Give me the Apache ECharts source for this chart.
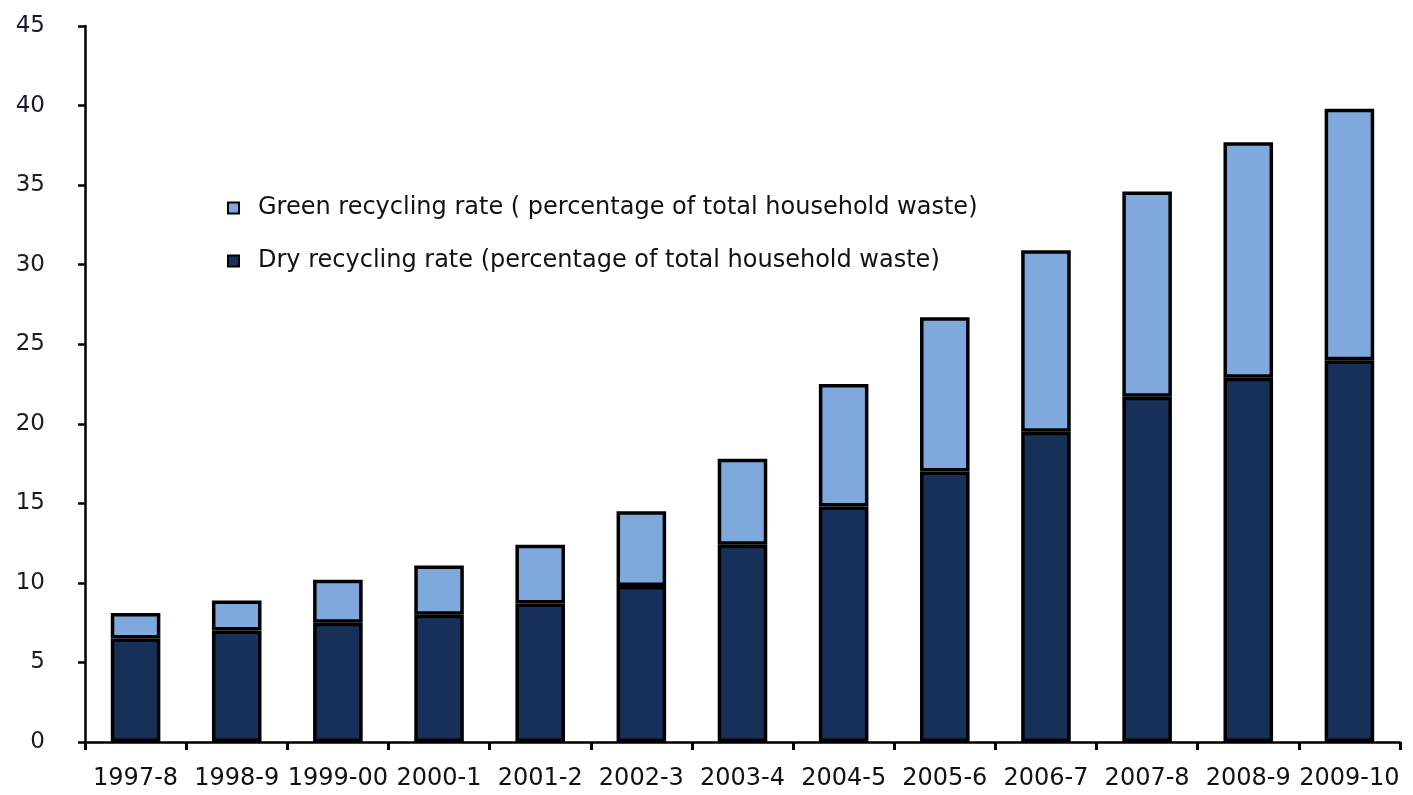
<!DOCTYPE html>
<html>
<head>
<meta charset="utf-8">
<script src="https://cdn.jsdelivr.net/npm/echarts@6/dist/echarts.min.js"></script>
<style>
html, body { margin: 0; padding: 0; background: #fff; }
#canvas { width: 1413px; height: 795px; }
</style>
</head>
<body>
<div id="canvas"></div>
<script>
var years = ['1997-8','1998-9','1999-00','2000-1','2001-2','2002-3','2003-4','2004-5','2005-6','2006-7','2007-8','2008-9','2009-10'];
var dryRate = [6.5, 7.0, 7.5, 8.0, 8.7, 9.8, 12.4, 14.8, 17.0, 19.5, 21.7, 22.9, 24.0];
var greenRate = [1.6, 1.9, 2.7, 3.1, 3.7, 4.7, 5.4, 7.7, 9.7, 11.4, 12.9, 14.8, 15.8];
var yTicks = [0, 5, 10, 15, 20, 25, 30, 35, 40, 45];

var greenName = 'Green recycling rate ( percentage of total household waste)';
var dryName = 'Dry recycling rate (percentage of total household waste)';

var myChart = echarts.init(document.getElementById('canvas'));
var option = {
    backgroundColor: '#fff',
    animation: false,
    textStyle: { fontFamily: 'DejaVu Sans, sans-serif' },
    grid: { left: 85, right: 13, top: 26, bottom: 53, containLabel: false },
    legend: {
        data: [greenName, dryName],
        orient: 'vertical',
        left: 222,
        top: 191,
        itemWidth: 11,
        itemHeight: 11,
        itemGap: 29,
        icon: 'rect',
        textStyle: { fontSize: 24, color: '#111', padding: [0, 0, 0, 14] }
    },
    xAxis: {
        type: 'category',
        data: years,
        axisLine: { lineStyle: { color: '#000', width: 2.5 } },
        axisTick: { show: true, length: 8, lineStyle: { color: '#000', width: 3 } },
        axisLabel: { interval: 0, color: '#111', fontSize: 24, margin: 25 }
    },
    yAxis: {
        type: 'value',
        min: yTicks[0],
        max: yTicks[yTicks.length - 1],
        interval: 5,
        splitLine: { show: false },
        axisLine: { show: true, lineStyle: { color: '#000', width: 2.5 } },
        axisTick: { show: true, length: 7, lineStyle: { color: '#000', width: 2.5 } },
        axisLabel: { color: '#1a1a2a', fontSize: 23, margin: 40 }
    },
    series: [
        {
            name: dryName,
            type: 'bar',
            stack: 'total',
            barWidth: '49%',
            data: dryRate,
            itemStyle: { color: '#17305A', borderColor: '#000', borderWidth: 3.5 }
        },
        {
            name: greenName,
            type: 'bar',
            stack: 'total',
            barWidth: '49%',
            data: greenRate,
            itemStyle: { color: '#7FA8DC', borderColor: '#000', borderWidth: 3.5 }
        }
    ]
};
myChart.setOption(option);
window.onresize = myChart.resize;
</script>
</body>
</html>
